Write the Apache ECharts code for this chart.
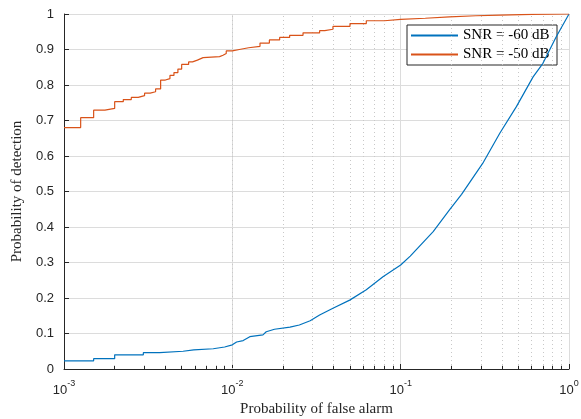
<!DOCTYPE html>
<html>
<head>
<meta charset="utf-8">
<script src="https://cdn.jsdelivr.net/npm/echarts@6/dist/echarts.min.js"></script>
<style>
html, body { margin: 0; padding: 0; background: #fff; }
#roc-chart { width: 581px; height: 419px; }
</style>
</head>
<body>
<div id="roc-chart"></div>
<script>
// SNR = -60 dB (corner points included where the curve is stair-like)
var pfaLow = [0.001, 0.0015, 0.0015, 0.002, 0.002, 0.00296, 0.00296, 0.0037, 0.0037, 0.0051, 0.0051, 0.0059, 0.0059, 0.0077, 0.0077, 0.009, 0.009,
    0.01, 0.0106, 0.0116, 0.0127, 0.0152, 0.0159, 0.0178, 0.022, 0.025, 0.029, 0.033, 0.0396, 0.0498, 0.0625, 0.0785,
    0.1, 0.114, 0.156, 0.195, 0.230, 0.307, 0.388, 0.487, 0.612, 0.70, 0.84, 1.0];
var pdLow = [0.023, 0.023, 0.029, 0.029, 0.040, 0.040, 0.046, 0.046, 0.050, 0.050, 0.054, 0.054, 0.057, 0.057, 0.062, 0.062, 0.067,
    0.068, 0.076, 0.080, 0.091, 0.096, 0.105, 0.112, 0.118, 0.124, 0.136, 0.152, 0.171, 0.194, 0.223, 0.260,
    0.293, 0.318, 0.387, 0.448, 0.492, 0.579, 0.664, 0.739, 0.823, 0.861, 0.936, 1.0];

// SNR = -50 dB (stairs: value holds until next pfa)
var pfaHigh = [0.001, 0.001256, 0.0015, 0.00175, 0.002, 0.00225, 0.00251, 0.00276, 0.00301, 0.00325, 0.0035, 0.00375, 0.004, 0.00426,
    0.0045, 0.00475, 0.005, 0.0055, 0.0058, 0.0062, 0.0064, 0.0067, 0.0084, 0.0088, 0.0092, 0.01, 0.011, 0.0125, 0.0146,
    0.0166, 0.0191, 0.0219, 0.0263, 0.033, 0.0354, 0.0396, 0.05, 0.0625, 0.08, 0.1, 0.14, 0.195, 0.28, 0.39, 0.6, 1.0];
var pdHigh = [0.680, 0.708, 0.729, 0.734, 0.753, 0.759, 0.765, 0.770, 0.777, 0.781, 0.789, 0.814, 0.818, 0.827,
    0.835, 0.845, 0.858, 0.865, 0.870, 0.873, 0.877, 0.880, 0.884, 0.889, 0.896, 0.900, 0.905, 0.909, 0.918,
    0.927, 0.934, 0.940, 0.947, 0.953, 0.957, 0.965, 0.973, 0.981, 0.985, 0.988, 0.992, 0.995, 0.997, 0.999, 1.0, 1.0];

var seriesNames = ['SNR = -60 dB', 'SNR = -50 dB'];
var colors = ['#0072BD', '#D95319'];
var decades = [0.001, 0.01, 0.1];

function pairs(xs, ys) {
    return xs.map(function (x, i) { return [x, ys[i]]; });
}

// minor log positions 2..9 in each decade
var minorValues = [];
decades.forEach(function (d) {
    for (var k = 2; k <= 9; k++) {
        minorValues.push(+(k * d).toPrecision(3));
    }
});

var chart = echarts.init(document.getElementById('roc-chart'));
var axisColor = '#262626';
var serif = '"Liberation Serif", "DejaVu Serif", serif';
var sans = '"Liberation Sans", Arial, sans-serif';

chart.setOption({
    animation: false,
    color: colors,
    grid: { left: 64, right: 12, top: 14, bottom: 50, outerBoundsMode: 'none' },
    legend: {
        data: seriesNames,
        orient: 'vertical',
        right: 24,
        top: 25,
        backgroundColor: '#fff',
        borderColor: axisColor,
        borderWidth: 1,
        borderRadius: 0,
        padding: [2, 4, 2, 4],
        itemGap: 2,
        itemWidth: 47,
        itemHeight: 2,
        icon: 'rect',
        textStyle: { fontFamily: serif, fontSize: 15, lineHeight: 17, width: 90, color: '#000' }
    },
    xAxis: {
        type: 'log',
        logBase: 10,
        min: 0.001,
        max: 1,
        name: 'Probability of false alarm',
        nameLocation: 'middle',
        nameGap: 32,
        nameTextStyle: { fontFamily: serif, fontSize: 15, color: '#262626' },
        axisLine: { lineStyle: { color: axisColor, width: 1 } },
        axisTick: { inside: true, length: 5, lineStyle: { color: axisColor } },
        splitLine: { show: true, lineStyle: { color: '#dcdcdc', width: 1 } },
        axisLabel: {
            margin: 10,
            formatter: function (v) {
                var e = Math.round(Math.log10(v));
                return '{b|10}{s|' + e + '}';
            },
            rich: {
                b: { fontFamily: sans, fontSize: 13, color: '#262626', lineHeight: 18, verticalAlign: 'bottom' },
                s: { fontFamily: sans, fontSize: 9, color: '#262626', lineHeight: 18, verticalAlign: 'top' }
            }
        }
    },
    yAxis: {
        type: 'value',
        min: 0,
        max: 1,
        interval: 0.1,
        name: 'Probability of detection',
        nameLocation: 'middle',
        nameGap: 36,
        nameTextStyle: { fontFamily: serif, fontSize: 15, color: '#262626' },
        axisLine: { show: true, lineStyle: { color: axisColor, width: 1 } },
        axisTick: { show: true, inside: true, length: 5, lineStyle: { color: axisColor } },
        splitLine: { show: true, lineStyle: { color: '#dcdcdc', width: 1 } },
        axisLabel: { fontFamily: sans, fontSize: 13, color: '#262626', margin: 10 }
    },
    series: [
        {
            name: 'minor-grid',
            type: 'line',
            data: [],
            silent: true,
            markLine: {
                silent: true,
                symbol: 'none',
                label: { show: false },
                lineStyle: { type: [1, 3], color: '#c8c8c8', width: 1 },
                data: minorValues.map(function (v) { return { xAxis: v }; })
            }
        },
        {
            name: 'minor-ticks',
            type: 'line',
            data: [],
            silent: true,
            markLine: {
                silent: true,
                symbol: 'none',
                label: { show: false },
                lineStyle: { type: 'solid', color: axisColor, width: 1 },
                data: minorValues.map(function (v) {
                    return [{ coord: [v, 0] }, { coord: [v, 0.009] }];
                })
            }
        },
        {
            name: seriesNames[0],
            type: 'line',
            showSymbol: false,
            symbol: 'none',
            lineStyle: { width: 1.2, color: colors[0] },
            data: pairs(pfaLow, pdLow),
            z: 5
        },
        {
            name: seriesNames[1],
            type: 'line',
            step: 'end',
            showSymbol: false,
            symbol: 'none',
            lineStyle: { width: 1.2, color: colors[1] },
            data: pairs(pfaHigh, pdHigh),
            z: 5
        }
    ]
});
</script>
</body>
</html>
